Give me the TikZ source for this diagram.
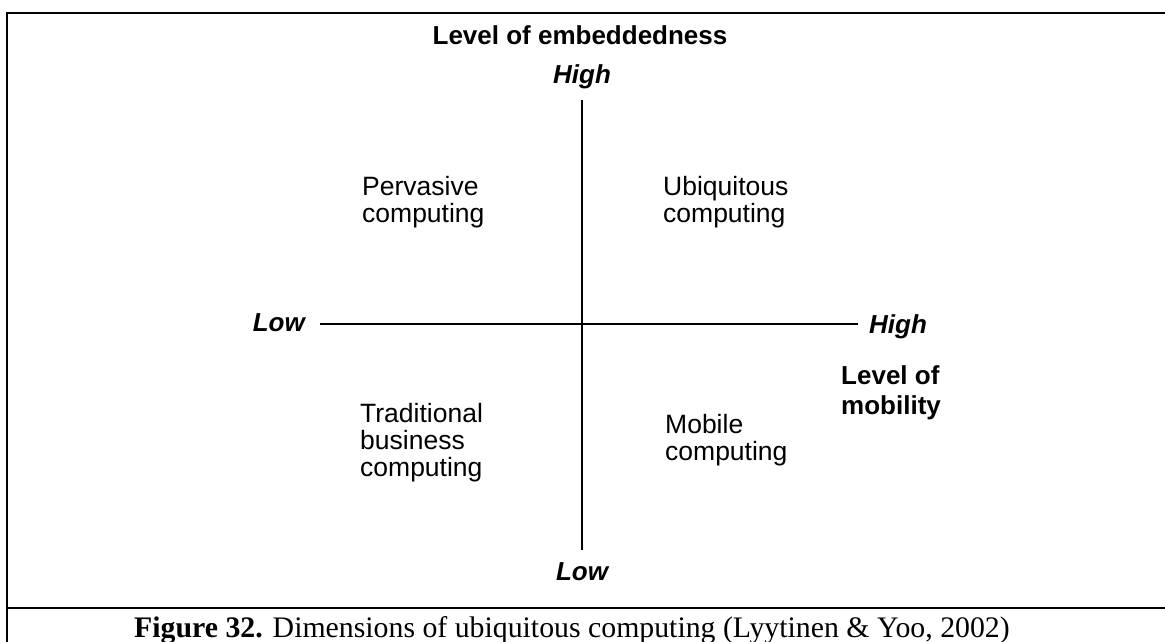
\documentclass[tikz,border=0pt]{standalone}
\usepackage{fontspec}
\setmainfont{Liberation Serif}
\setsansfont{Liberation Sans}
\usepackage{tikz}
\usetikzlibrary{positioning}

\tikzset{
  quadlbl/.style={anchor=west,inner sep=0pt,align=left,font=\sffamily\fontsize{26.5}{27}\selectfont},
  axislbl/.style={inner sep=0pt,font=\sffamily\bfseries\itshape\fontsize{26}{27}\selectfont},
  dimlbl/.style={inner sep=0pt,align=left,font=\sffamily\bfseries\fontsize{26}{30}\selectfont}
}

\begin{document}
\begin{tikzpicture}[x=1pt,y=-1pt]
\useasboundingbox (0,0) rectangle (1165,642);
% frame and caption rule
\draw[line width=2.3pt] (1165,13) -| (7,642);
\draw[line width=2.3pt] (7,608) -- (1165,608);
% axes
\coordinate (vtop) at (582,100);
\coordinate (vbot) at (582,550);
\coordinate (hleft) at (320,324);
\coordinate (hright) at (858,324);
\draw[line width=1.8pt] (vbot) -- (vtop);
\draw[line width=1.8pt] (hleft) -- (hright);
\node[dimlbl,anchor=base] (embed) at (580,45) {Level of embeddedness};
\node[axislbl,anchor=base] (embhigh) at (582,84) {High};
\node[axislbl,anchor=base] (emblow) at (582,580) {Low};
\node[axislbl,anchor=base east] (moblow) at (305,331) {Low};
\node[axislbl,anchor=base west] (mobhigh) at (869,333) {High};
\node[dimlbl,anchor=west] (mobil) at (841,393) {Level of\\mobility};
% quadrants
\node[quadlbl] (perv) at (362,202) {Pervasive\\computing};
\node[quadlbl] (ubiq) at (663,202) {Ubiquitous\\computing};
\node[quadlbl] (trad) at (360,443) {Traditional\\business\\computing};
\node[quadlbl] (mobi) at (665,440) {Mobile\\computing};
% caption
\node[anchor=base,inner sep=0pt,font=\fontsize{29.8}{30}\selectfont] (capt) at (572,637) {\textbf{Figure 32.} Dimensions of ubiquitous computing (Lyytinen \& Yoo, 2002)};
\end{tikzpicture}
\end{document}
